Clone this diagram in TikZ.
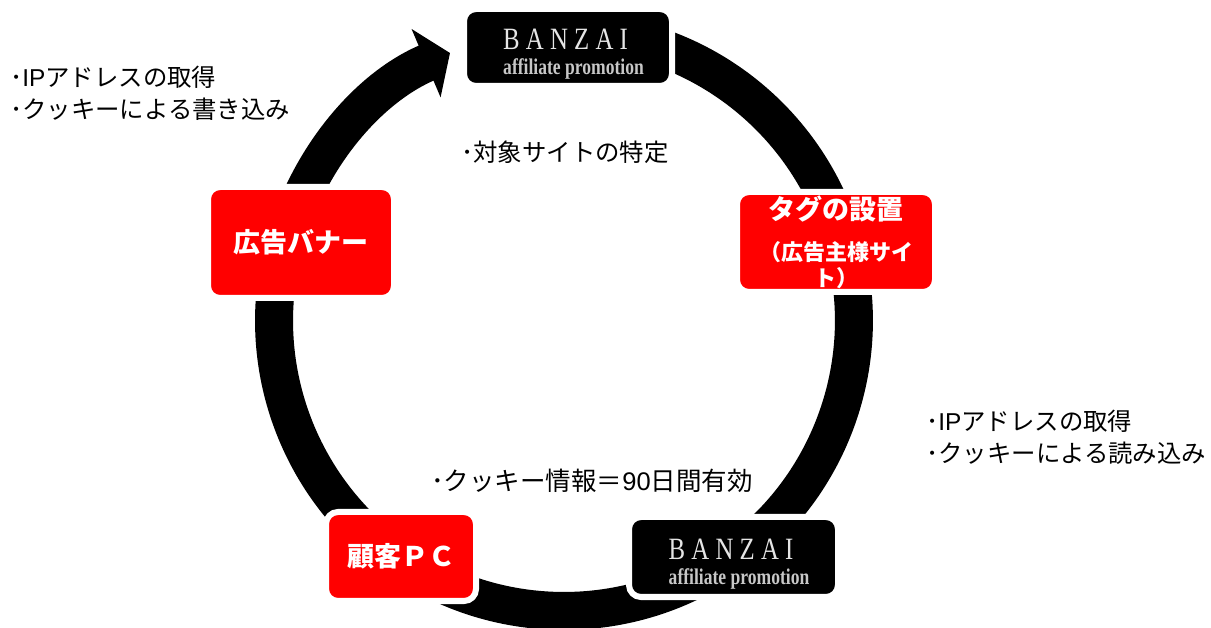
\documentclass[tikz,border=0pt]{standalone}
\usepackage{fontspec}
\setmainfont{Liberation Sans}
\newfontfamily\cjk{Noto Sans CJK JP}
\newfontfamily\logobig[FakeStretch=0.8,LetterSpace=20]{Liberation Serif}
\newfontfamily\logosmall[FakeStretch=0.78]{Liberation Serif Bold}
\usetikzlibrary{arrows.meta,backgrounds,calc}
\definecolor{logotext}{gray}{0.9}
\definecolor{logosub}{gray}{0.78}
\tikzset{
  box/.style={rounded corners=12pt, draw=white, line width=6pt, align=center, inner sep=0pt},
  redbox/.style={box, fill=red, text=white, font=\cjk\bfseries\fontsize{27}{32}\selectfont},
  logobox/.style={box, fill=black, text=logotext, align=left},
  note/.style={align=left, inner sep=0pt, font=\cjk\fontsize{24.4}{32}\selectfont},
  ringline/.style={line width=38pt, black},
}
\newcommand{\banzai}{\rule{0pt}{34pt}\hspace*{11pt}{\logobig\fontsize{31}{34}\selectfont BANZAI}\\[8pt]\hspace*{11pt}{\logosmall\color{logosub}\fontsize{22.5}{22}\selectfont affiliate promotion}}
\begin{document}
\begin{tikzpicture}[x=1pt, y=1pt]
  \useasboundingbox (0,0) rectangle (1211,627);
  \node [logobox, minimum width=208pt, minimum height=77pt] (logotop) at (568,579.5) {\banzai};
  \node [redbox, minimum width=198pt, minimum height=100pt] (tagbox) at (836,385) {タグの設置\\[9pt]{\fontsize{22}{25}\selectfont （広告主様サイ}\\[-6pt]{\fontsize{22}{25}\selectfont ト）}};
  \node [logobox, minimum width=209pt, minimum height=80pt] (logobottom) at (733.5,70) {\banzai};
  \node [redbox, minimum width=150pt, minimum height=89pt] (pcbox) at (401,70.5) {顧客ＰＣ};
  \node [redbox, minimum width=186pt, minimum height=111pt] (bannerbox) at (301,384.5) {広告バナー};
  % ring points hidden under the boxes
  \coordinate (ringc) at (564,306);
  \coordinate (ringtop) at ($(ringc)+(80:290)$);
  \coordinate (ringtag) at ($(ringc)+(15:290)$);
  \coordinate (ringlogo) at ($(ringc)+(-50:290)$);
  \coordinate (ringpc) at ($(ringc)+(-125:290)$);
  \coordinate (ringbanner) at ($(ringc)+(165:290)$);
  \coordinate (arrowend) at (450,574);
  \begin{scope}[on background layer]
    \draw [ringline] (ringtop) to [out=-10, in=105, looseness=.924] (ringtag);
    \draw [ringline] (ringtag) to [out=-75, in=40, looseness=.924] (ringlogo);
    \draw [ringline] (ringlogo) to [out=-140, in=-35, looseness=.95] (ringpc);
    \draw [ringline] (ringpc) to [out=145, in=-105, looseness=.936] (ringbanner);
    \draw [ringline, -{Triangle[width=73pt, length=26pt]}] (ringbanner) to [out=75, in=203, looseness=.9] (arrowend);
  \end{scope}
  \node [note, anchor=west] (notebanner) at (10,534) {･{\rmfamily IP}アドレスの取得\\･クッキーによる書き込み};
  \node [note, anchor=west] (notetarget) at (461,475) {･対象サイトの特定};
  \node [note, anchor=west] (notetag) at (926,189.5) {･{\rmfamily IP}アドレスの取得\\･クッキーによる読み込み};
  \node [note, anchor=west, font=\cjk\fontsize{25.5}{32}\selectfont] (notecookie) at (431,146) {･クッキー情報＝{\rmfamily 90}日間有効};
\end{tikzpicture}
\end{document}
